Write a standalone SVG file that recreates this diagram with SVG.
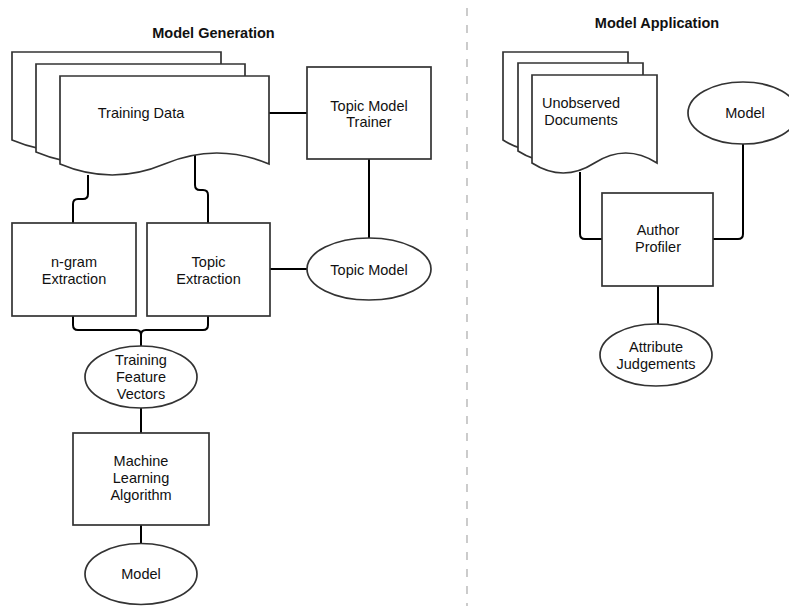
<svg xmlns="http://www.w3.org/2000/svg" width="789" height="606" viewBox="0 0 789 606">
<style>
.s{fill:#fff;stroke:#333;stroke-width:1.7}
.c{fill:none;stroke:#000;stroke-width:2}
text{font-family:"Liberation Sans",Arial,sans-serif;font-size:14.5px;fill:#111;text-anchor:middle}
.t{font-weight:bold}
</style>
<rect width="789" height="606" fill="#fff"/>
<line x1="467" y1="8" x2="467" y2="606" stroke="#aaa" stroke-width="1.2" stroke-dasharray="8 9"/>
<text class="t" x="213.5" y="37.5">Model Generation</text>
<text class="t" x="657" y="28">Model Application</text>
<g id="connectors">
<path class="c" d="M269,113 H307"/>
<path class="c" d="M369,159 V238"/>
<path class="c" d="M270,269 H307"/>
<path class="c" d="M88,175 V194 Q88,199 83,199 H78 Q73,199 73,204 V223"/>
<path class="c" d="M195,154 V185 Q195,190 200,190 H203 Q208,190 208,195 V223"/>
<path class="c" d="M73,316 V325 Q73,330 78,330 H136 Q141,330 141,335 V346"/>
<path class="c" d="M208,316 V325 Q208,330 203,330 H146 Q141,330 141,335 V346"/>
<path class="c" d="M141,408 V433"/>
<path class="c" d="M141,525 V543"/>
<path class="c" d="M580,172 V234 Q580,239 585,239 H602"/>
<path class="c" d="M743,144 V234 Q743,239 738,239 H713"/>
<path class="c" d="M658,286 V324"/>
</g>
<g id="training-data">
<path class="s" d="M12,52 H221 V140 Q168.75,118 116.5,140 T12,140 Z"/>
<path class="s" d="M36,64 H245 V152 Q192.75,130 140.5,152 T36,152 Z"/>
<path class="s" d="M60,76 H269 V164 Q216.75,142 164.5,164 T60,164 Z"/>
<text x="141" y="118">Training Data</text>
</g>
<g id="topic-model-trainer">
<rect class="s" x="307" y="67" width="124" height="92"/>
<text x="369" y="110.5">Topic Model</text>
<text x="369" y="127">Trainer</text>
</g>
<g id="ngram-extraction">
<rect class="s" x="12" y="223" width="124" height="93"/>
<text x="74" y="267">n-gram</text>
<text x="74" y="283.5">Extraction</text>
</g>
<g id="topic-extraction">
<rect class="s" x="147" y="223" width="123" height="93"/>
<text x="208.5" y="267">Topic</text>
<text x="208.5" y="283.5">Extraction</text>
</g>
<g id="topic-model">
<ellipse class="s" cx="369" cy="269" rx="62" ry="31"/>
<text x="369" y="275">Topic Model</text>
</g>
<g id="training-feature-vectors">
<ellipse class="s" cx="141" cy="377" rx="56" ry="31"/>
<text x="141" y="365">Training</text>
<text x="141" y="382">Feature</text>
<text x="141" y="399">Vectors</text>
</g>
<g id="ml-algorithm">
<rect class="s" x="73" y="433" width="136" height="92"/>
<text x="141" y="466">Machine</text>
<text x="141" y="483">Learning</text>
<text x="141" y="500">Algorithm</text>
</g>
<g id="model-left">
<ellipse class="s" cx="141" cy="574" rx="56" ry="30.5"/>
<text x="141" y="578.5">Model</text>
</g>
<g id="unobserved-documents">
<path class="s" d="M503,52 H628 V140 Q596.75,120 565.5,140 T503,140 Z"/>
<path class="s" d="M518,63 H643 V151 Q611.75,131 580.5,151 T518,151 Z"/>
<path class="s" d="M532,75 H657 V163 Q625.75,143 594.5,163 T532,163 Z"/>
<text x="581" y="108">Unobserved</text>
<text x="581" y="125">Documents</text>
</g>
<g id="model-right">
<ellipse class="s" cx="743" cy="113" rx="55" ry="31"/>
<text x="745" y="117.5">Model</text>
</g>
<g id="author-profiler">
<rect class="s" x="602" y="193" width="111" height="93"/>
<text x="658" y="235">Author</text>
<text x="658" y="252">Profiler</text>
</g>
<g id="attribute-judgements">
<ellipse class="s" cx="656" cy="355" rx="56" ry="31"/>
<text x="656" y="352">Attribute</text>
<text x="656" y="369">Judgements</text>
</g>
</svg>
